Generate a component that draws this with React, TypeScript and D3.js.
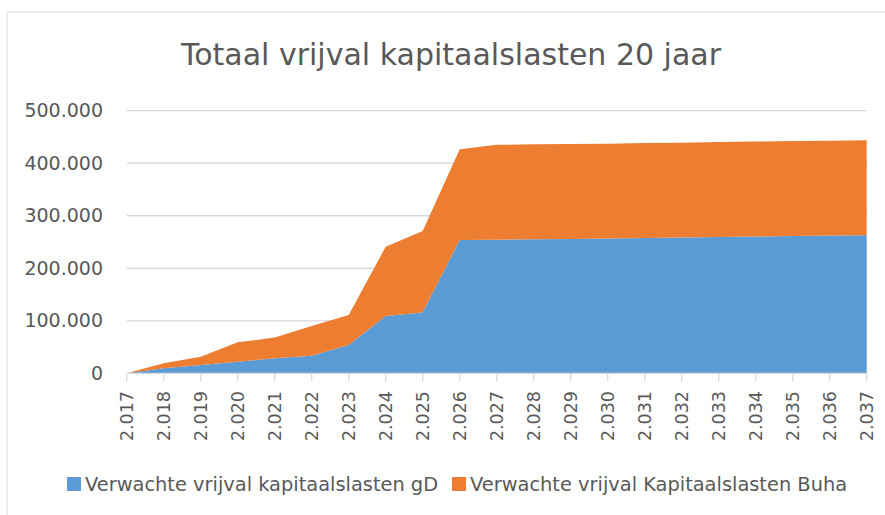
import React from "react";
import * as d3 from "d3";

const years = [2017, 2018, 2019, 2020, 2021, 2022, 2023, 2024, 2025, 2026, 2027, 2028, 2029, 2030, 2031, 2032, 2033, 2034, 2035, 2036, 2037];
const yearLabels = ["2.017", "2.018", "2.019", "2.020", "2.021", "2.022", "2.023", "2.024", "2.025", "2.026", "2.027", "2.028", "2.029", "2.030", "2.031", "2.032", "2.033", "2.034", "2.035", "2.036", "2.037"];
const gD = [0, 9500, 15800, 22000, 28500, 33500, 54000, 109000, 116000, 254000, 254500, 255000, 255700, 256500, 257500, 258500, 259500, 260500, 261500, 262300, 263000];
const buha = [0, 9500, 15800, 37000, 39500, 56500, 57000, 132000, 155000, 172500, 180500, 181000, 180900, 180800, 180800, 180700, 180700, 180700, 180600, 180600, 180600];
const yTicks = [0, 100000, 200000, 300000, 400000, 500000];
const yTickLabels = ["0", "100.000", "200.000", "300.000", "400.000", "500.000"];
const seriesNames = ["Verwachte vrijval kapitaalslasten gD", "Verwachte vrijval Kapitaalslasten Buha"];
const colors = ["#5B9BD5", "#ED7D31"];
const title = "Totaal vrijval kapitaalslasten 20 jaar";

export default function App() {
  const W = 885, H = 515;
  const font = "'DejaVu Sans', sans-serif";
  const text = "#595959";
  const x = d3.scalePoint<number>().domain(years).range([126.7, 866.7]);
  const y = d3.scaleLinear().domain([0, 500000]).range([373.3, 110.7]);
  const rows = years.map((yr, i) => ({ year: yr, gD: gD[i], buha: buha[i] }));
  const stacked = d3.stack<any>().keys(["gD", "buha"])(rows);
  const area = d3
    .area<any>()
    .x((d) => x(d.data.year) as number)
    .y0((d) => y(d[0]))
    .y1((d) => y(d[1]));

  return (
    <svg width={W} height={H} style={{ position: "absolute", left: 0, top: 0, background: "#fff" }}>
      <rect x={0} y={0} width={W} height={H} fill="#fff" />
      <line x1={7} x2={W + 5} y1={12} y2={12} stroke="#D9D9D9" strokeWidth={1} />
      <line x1={7} x2={7} y1={12} y2={H + 5} stroke="#D9D9D9" strokeWidth={1} />
      <text x={451} y={65} textAnchor="middle" fontFamily={font} fontSize={30} fill={text}>
        {title}
      </text>
      {yTicks.map((t, i) => (
        <g key={t}>
          {t !== 0 && (
            <line x1={126.7} x2={866.7} y1={y(t)} y2={y(t)} stroke="#D9D9D9" strokeWidth={1.3} />
          )}
          <text x={103} y={y(t)} dy="0.35em" textAnchor="end" fontFamily={font} fontSize={19} fill={text}>
            {yTickLabels[i]}
          </text>
        </g>
      ))}
      {stacked.map((s, i) => (
        <path key={i} d={area(s) as string} fill={colors[i]} />
      ))}
      <line x1={126.7} x2={866.7} y1={y(0)} y2={y(0)} stroke="#D9D9D9" strokeWidth={1.3} />
      {years.map((yr, i) => (
        <g key={yr}>
          <line x1={x(yr)} x2={x(yr)} y1={y(0)} y2={y(0) + 8} stroke="#D9D9D9" strokeWidth={1.3} />
          <text
            transform={`translate(${x(yr)},${391}) rotate(-90)`}
            textAnchor="end"
            dy="0.36em"
            fontFamily={font}
            fontSize={17.5}
            fill={text}
          >
            {yearLabels[i]}
          </text>
        </g>
      ))}
      <rect x={67} y={477} width={14} height={14} fill={colors[0]} />
      <text x={85} y={491} fontFamily={font} fontSize={19.4} fill={text}>
        {seriesNames[0]}
      </text>
      <rect x={452} y={477} width={14} height={14} fill={colors[1]} />
      <text x={470} y={491} fontFamily={font} fontSize={19.4} fill={text}>
        {seriesNames[1]}
      </text>
    </svg>
  );
}
